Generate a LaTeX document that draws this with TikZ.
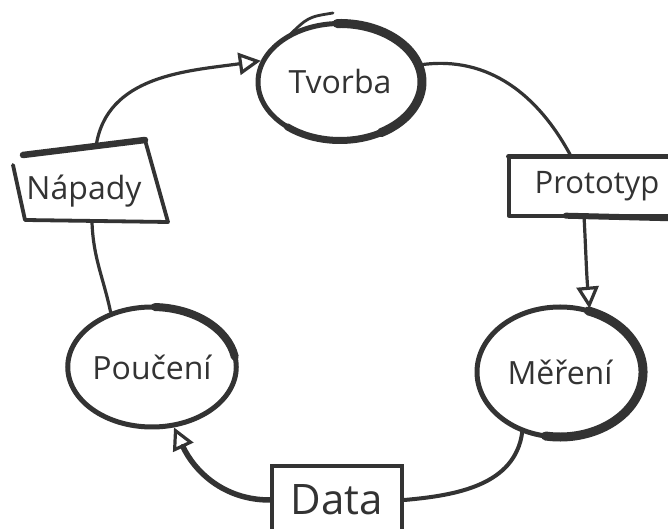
\documentclass[tikz,border=0pt]{standalone}
\usepackage{fontspec}
\setmainfont{Open Sans}
\usetikzlibrary{shapes.geometric,arrows.meta}
\definecolor{ink}{HTML}{333333}
\begin{document}
\begin{tikzpicture}[x=1pt,y=1pt,
  inkline/.style={draw=ink, line width=3.8pt, line cap=round, line join=round},
  heavy/.style={draw=ink, line width=9pt, line cap=round},
  bubble/.style={ellipse, draw=ink, line width=5pt, inner sep=0pt, text=ink,
    font=\fontsize{32}{34}\selectfont},
  boxlbl/.style={rectangle, inner sep=0pt, text=ink, font=\fontsize{32}{34}\selectfont},
  conn/.style={draw=ink, line width=3.2pt, line cap=round},
  tip/.style={-{Triangle[open, length=22pt, width=22pt, line width=3.2pt]}}
]
\useasboundingbox (0,0) rectangle (668,529);

% nodes
\node[bubble, minimum width=164pt, minimum height=117pt] (tv) at (340,447) {Tvorba};
\node[bubble, minimum width=168pt, minimum height=120pt] (pou) at (152,162) {Poučení};
\node[bubble, minimum width=166pt, minimum height=130pt] (mer) at (560,157) {Měření};
\node[boxlbl, minimum width=182pt, minimum height=59pt, font=\fontsize{31}{33}\selectfont] (pro) at (597,343) {Prototyp};
\node[boxlbl, minimum width=140pt, minimum height=76pt] (nap) at (84,338) {Nápady};
\node[boxlbl, draw=ink, line width=4.4pt, font=\fontsize{42}{44}\selectfont,
  minimum width=130pt, minimum height=68pt] (dat) at (337,29) {Data};

% sketchy heavy parts of the bubbles
\draw[heavy] ([shift={(92:82 and 58.5)}]tv.center) arc[start angle=92, end angle=-60, x radius=82, y radius=58.5];
\draw[heavy, line width=7pt] ([shift={(-60:82 and 58.5)}]tv.center) arc[start angle=-60, end angle=-130, x radius=82, y radius=58.5];
\draw[inkline, line width=2.8pt] ([shift={(130:82 and 58.5)}]tv.center) .. controls (308,512) .. (333,516);
\draw[heavy, line width=8pt] ([shift={(88:84 and 60)}]pou.center) arc[start angle=88, end angle=10, x radius=84, y radius=60];
\draw[heavy] ([shift={(70:83 and 65)}]mer.center) arc[start angle=70, end angle=-100, x radius=83, y radius=65];

% box outlines
\draw[inkline] ([xshift=3pt]pro.north west) -- ([xshift=3pt]pro.south west) -- ([xshift=3pt]pro.south east);
\draw[heavy, line width=5.5pt] ([xshift=3pt]pro.north west) -- (pro.north east);
\draw[heavy, line width=6pt] ([xshift=60pt]pro.south west) -- ([yshift=-3pt]pro.south east);
\draw[inkline] (13,364) -- (25,309) -- (168,307) -- (145,389);
\draw[heavy, line width=6.5pt] (23,374) -- (145,389);

% connectors
\draw[conn, tip] ([xshift=12pt, yshift=6pt]nap.north) to[out=82, in=188] (tv.165);
\draw[conn] (tv.12) to[out=8, in=118] ([xshift=-26pt]pro.north);
\draw[conn, tip] ([xshift=-13pt]pro.south) to[out=-87, in=95] (mer.65);
\draw[conn, line width=4pt] (mer.238) to[out=262, in=5] (dat.east);
\draw[conn, line width=5.5pt, tip] (dat.west) to[out=180, in=-65] (pou.290);
\draw[conn] (pou.127) to[out=102, in=-88] ([xshift=8pt, yshift=7pt]nap.south);
\end{tikzpicture}
\end{document}
